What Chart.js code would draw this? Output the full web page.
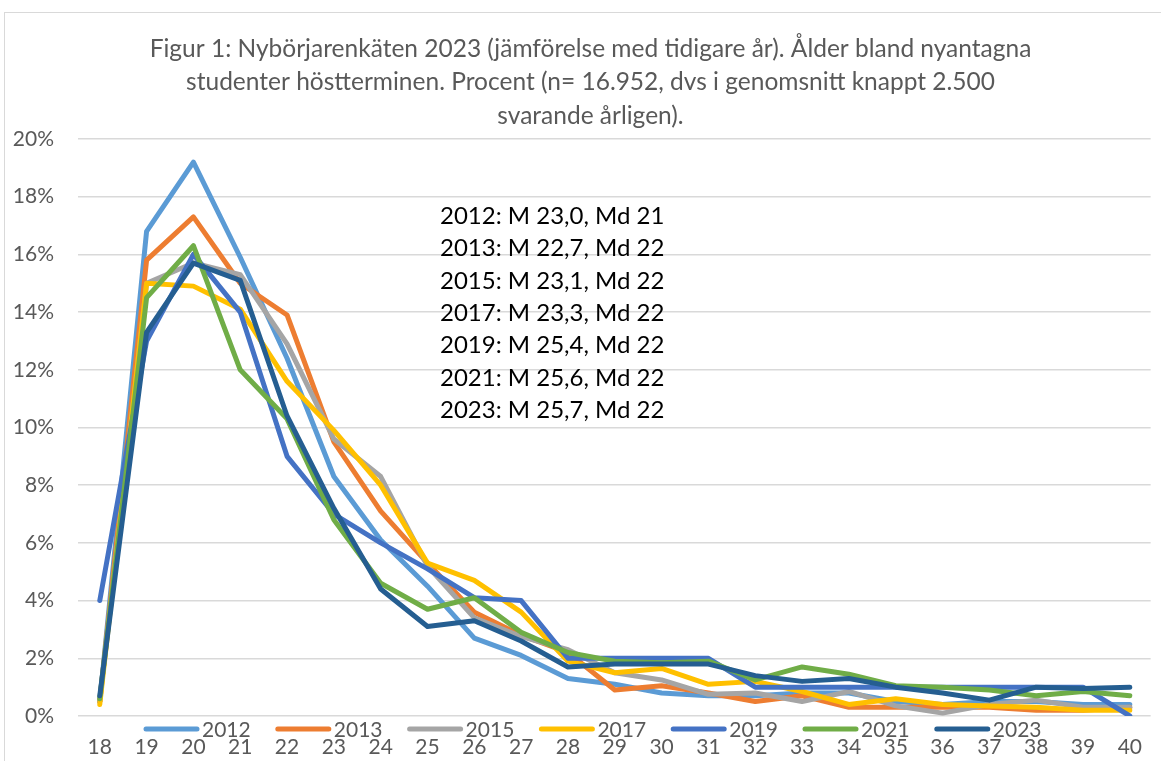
<!DOCTYPE html>
<html lang="sv">
<head>
    <meta charset="UTF-8">
    <title>Nybörjarenkäten 2023 - ålder</title>
    <script src="https://cdn.jsdelivr.net/npm/chart.js"></script>
    <style>
        html, body { margin: 0; padding: 0; background: #fff; }
        .wrap { width: 1161px; height: 761px; }
    </style>
</head>
<body>
<div class="wrap"><canvas id="ageChart" width="1161" height="761"></canvas></div>

<script>
    // Ålder (x-axeln)
    const ages = [18, 19, 20, 21, 22, 23, 24, 25, 26, 27, 28, 29, 30, 31, 32, 33, 34, 35, 36, 37, 38, 39, 40];
    const years = ['2012', '2013', '2015', '2017', '2019', '2021', '2023'];

    // Andel i procent per ålder
    const s2012 = [0.5, 16.8, 19.2, 15.9, 12.4, 8.3, 6.1, 4.5, 2.7, 2.1, 1.3, 1.1, 0.8, 0.7, 0.7, 0.8, 0.8, 0.5, 0.4, 0.5, 0.5, 0.4, 0.4];
    const s2013 = [0.5, 15.8, 17.3, 15.0, 13.9, 9.5, 7.1, 5.3, 3.6, 2.8, 2.2, 0.9, 1.05, 0.8, 0.5, 0.7, 0.3, 0.3, 0.3, 0.3, 0.2, 0.2, 0.3];
    const s2015 = [0.5, 15.0, 15.7, 15.3, 12.9, 9.6, 8.3, 5.2, 3.4, 2.75, 2.3, 1.5, 1.25, 0.75, 0.8, 0.5, 0.85, 0.35, 0.1, 0.4, 0.55, 0.3, 0.3];
    const s2017 = [0.4, 15.0, 14.9, 14.1, 11.6, 9.9, 8.0, 5.3, 4.7, 3.6, 1.9, 1.5, 1.65, 1.1, 1.2, 0.85, 0.4, 0.6, 0.4, 0.35, 0.3, 0.2, 0.2];
    const s2019 = [4.0, 13.0, 16.0, 14.0, 9.0, 7.0, 6.0, 5.1, 4.1, 4.0, 2.0, 2.0, 2.0, 2.0, 1.0, 1.0, 1.0, 1.0, 1.0, 1.0, 1.0, 1.0, 0.0];
    const s2021 = [0.6, 14.5, 16.3, 12.0, 10.3, 6.8, 4.6, 3.7, 4.1, 2.9, 2.2, 1.9, 1.85, 1.9, 1.25, 1.7, 1.45, 1.05, 1.0, 0.9, 0.7, 0.85, 0.7];
    const s2023 = [0.7, 13.3, 15.7, 15.1, 10.4, 7.2, 4.4, 3.1, 3.3, 2.6, 1.7, 1.8, 1.8, 1.8, 1.4, 1.2, 1.3, 1.0, 0.8, 0.55, 1.0, 0.95, 1.0];
    const series = [s2012, s2013, s2015, s2017, s2019, s2021, s2023];

    // Y-axelns steg (procent)
    const yTicks = [0, 2, 4, 6, 8, 10, 12, 14, 16, 18, 20];

    const titleLines = [
        'Figur 1: Nybörjarenkäten 2023 (jämförelse med tidigare år). Ålder bland nyantagna',
        'studenter höstterminen. Procent (n= 16.952, dvs i genomsnitt knappt 2.500',
        'svarande årligen).'
    ];
    const notes = [
        '2012: M 23,0, Md 21',
        '2013: M 22,7, Md 22',
        '2015: M 23,1, Md 22',
        '2017: M 23,3, Md 22',
        '2019: M 25,4, Md 22',
        '2021: M 25,6, Md 22',
        '2023: M 25,7, Md 22'
    ];

    const lineColors = ['#5B9BD5', '#ED7D31', '#A5A5A5', '#FFC000', '#4472C4', '#70AD47', '#255E91'];
    const FONT = 'Lato';
    const GREY = '#595959';

    // ram, textruta och förklaring ritas här
    const extras = {
        id: 'extras',
        afterLayout(chart) {
            // diagrammet är beskuret till höger, så rubriken ligger lite åt höger
            chart.titleBlock.left += 20;
        },
        beforeDraw(chart) {
            const c = chart.ctx;
            c.save();
            c.fillStyle = '#fff';
            c.fillRect(0, 0, chart.width, chart.height);
            c.strokeStyle = '#D9D9D9';
            c.lineWidth = 1;
            c.strokeRect(4.5, 12.5, chart.width + 20, chart.height + 20);
            c.restore();
        },
        afterDraw(chart) {
            const c = chart.ctx;
            const a = chart.chartArea;
            c.save();
            // textruta med medel och median
            c.font = '24px ' + FONT;
            c.fillStyle = '#000';
            c.textBaseline = 'middle';
            c.textAlign = 'left';
            const nx = a.left + 362;
            notes.forEach((t, i) => c.fillText(t, nx, a.top + 77 + i * 32.4));

            // förklaring under diagramytan
            c.font = '21px ' + FONT;
            c.fillStyle = GREY;
            const ly = a.bottom + 13;
            let x = 144;
            chart.data.datasets.forEach(ds => {
                c.strokeStyle = ds.borderColor;
                c.lineWidth = 5;
                c.lineCap = 'round';
                c.beginPath();
                c.moveTo(x + 2, ly);
                c.lineTo(x + 53, ly);
                c.stroke();
                c.fillText(ds.label, x + 58, ly + 1);
                x += 131.8;
            });
            c.restore();
        }
    };

    const ctx = document.getElementById('ageChart').getContext('2d');
    const ageChart = new Chart(ctx, {
        type: 'line',
        data: {
            datasets: years.map((y, i) => ({
                label: y,
                data: series[i].map((v, j) => ({ x: ages[j], y: v })),
                borderColor: lineColors[i],
                backgroundColor: lineColors[i],
                borderWidth: 5,
                pointRadius: 0,
                tension: 0,
                borderJoinStyle: 'round',
                borderCapStyle: 'round',
                order: years.length - i
            }))
        },
        options: {
            responsive: false,
            animation: false,
            layout: { padding: 0 },
            plugins: {
                legend: { display: false },
                tooltip: { enabled: false },
                title: {
                    display: true,
                    text: titleLines,
                    color: GREY,
                    font: { family: FONT, size: 24.5, weight: 'normal', lineHeight: 1.363 },
                    padding: { top: 32.5, bottom: 6.3 }
                }
            },
            scales: {
                x: {
                    type: 'linear',
                    min: 17.535,
                    max: 40.445,
                    afterBuildTicks: scale => { scale.ticks = ages.map(v => ({ value: v })); },
                    afterFit: scale => { scale.height = 45; },
                    grid: { display: false, drawTicks: false },
                    border: { display: false },
                    ticks: {
                        color: GREY,
                        font: { family: FONT, size: 21 },
                        padding: 19,
                        maxRotation: 0,
                        autoSkip: false,
                        callback: v => String(v)
                    }
                },
                y: {
                    min: 0,
                    max: 20,
                    afterBuildTicks: scale => { scale.ticks = yTicks.map(v => ({ value: v })); },
                    afterFit: scale => { scale.width = 78; },
                    grid: { color: '#D9D9D9', lineWidth: 1.5, drawTicks: false },
                    border: { display: false },
                    ticks: {
                        color: GREY,
                        font: { family: FONT, size: 21 },
                        padding: 24,
                        callback: v => v + '%'
                    }
                }
            }
        },
        plugins: [extras]
    });
</script>
</body>
</html>
